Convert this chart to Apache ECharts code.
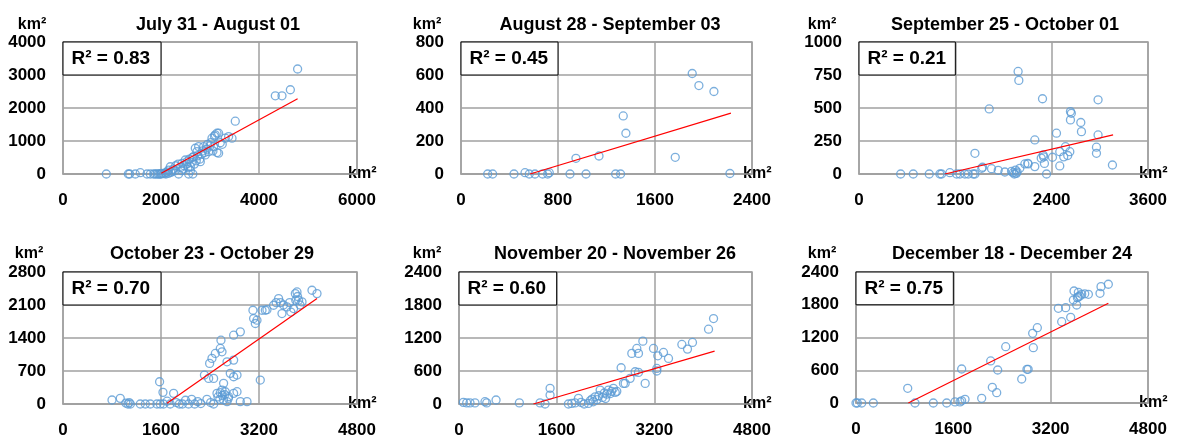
<!DOCTYPE html>
<html>
<head>
<meta charset="utf-8">
<script src="https://cdn.jsdelivr.net/npm/echarts@6/dist/echarts.min.js"></script>
<style>
html, body { margin: 0; padding: 0; background: #fff; }
#main { width: 1178px; height: 441px; }
</style>
</head>
<body>
<div id="main"></div>
<script>
// panel titles and R² values
const titles = ["July 31 - August 01", "August 28 - September 03", "September 25 - October 01",
    "October 23 - October 29", "November 20 - November 26", "December 18 - December 24"];
const r2 = ["0.83", "0.45", "0.21", "0.70", "0.60", "0.75"];

// axis ranges [max, interval]
const xAxes = [[6000, 2000], [2400, 800], [3600, 1200], [4800, 1600], [4800, 1600], [4800, 1600]];
const yAxes = [[4000, 1000], [800, 200], [1000, 250], [2800, 700], [2400, 600], [2400, 600]];

// scatter points [x, y] in km²
const pts1 = [[884,0],[1333,0],[1360,0],[1476,0],[1578,40],[1714,0],[1782,0],[1850,0],[1884,0],[1920,0],[1952,0],[1980,0],[2000,0],
    [2020,20],[2050,10],[2088,30],[2100,0],[2120,60],[2150,20],[2155,120],[2190,220],[2200,50],[2230,80],[2250,150],[2292,100],
    [2300,250],[2350,300],[2360,0],[2400,200],[2420,100],[2428,320],[2450,150],[2470,250],[2496,425],[2520,300],[2530,374],
    [2550,200],[2564,0],[2580,450],[2598,222],[2600,100],[2620,350],[2640,500],[2650,0],[2666,526],[2680,300],[2700,780],
    [2720,400],[2734,678],[2750,550],[2768,830],[2790,450],[2802,374],[2830,600],[2850,700],[2870,830],[2890,650],[2904,578],
    [2930,750],[2950,900],[2972,678],[3000,850],[3020,950],[3040,1085],[3060,700],[3074,830],[3090,1150],[3108,1185],
    [3143,1237],[3143,650],[3176,630],[3176,1237],[3210,950],[3250,900],[3312,1085],[3380,1134],[3449,1085],[3516,1600],
    [4333,2370],[4469,2370],[4640,2553],[4788,3182]];
const pts2 = [[220,0],[261,0],[437,0],[528,8],[563,0],[610,0],[673,0],[715,0],[728,8],[899,0],[948,95],[1031,0],[1138,109],
    [1275,0],[1316,0],[1338,352],[1360,247],[1767,101],[1907,609],[1962,536],[2086,500],[2218,3]];
const pts3 = [[519,0],[676,0],[875,0],[1008,0],[1029,0],[1132,10],[1216,0],[1257,0],[1319,0],[1361,0],[1423,0],[1444,0],
    [1444,157],[1529,43],[1539,51],[1622,493],[1651,40],[1734,28],[1817,15],[1900,20],[1921,10],[1935,0],[1950,30],[1960,5],
    [1970,15],[1982,777],[1991,709],[2003,43],[2066,76],[2102,81],[2107,76],[2190,56],[2190,258],[2270,120],[2286,570],
    [2294,144],[2300,130],[2310,80],[2336,0],[2410,127],[2460,309],[2501,61],[2501,169],[2550,130],[2572,207],[2600,140],
    [2626,169],[2634,473],[2645,460],[2634,410],[2763,390],[2771,321],[2958,157],[2958,203],[2978,562],[2978,296],[3157,68]];
const pts4 = [[800,85],[935,120],[1025,20],[1060,0],[1080,30],[1100,0],[1262,0],[1344,0],[1425,0],[1533,0],[1577,472],[1588,0],
    [1632,247],[1642,0],[1700,60],[1750,0],[1806,226],[1850,30],[1900,0],[1950,0],[2000,80],[2050,0],[2100,100],[2150,0],
    [2200,50],[2250,10],[2309,614],[2350,100],[2378,543],[2394,861],[2410,30],[2432,967],[2459,543],[2460,0],[2487,1073],
    [2514,226],[2530,150],[2560,100],[2568,1179],[2568,240],[2579,1354],[2596,1107],[2596,296],[2600,180],[2620,90],[2622,438],
    [2640,200],[2650,260],[2678,895],[2678,50],[2700,120],[2704,155],[2731,650],[2786,931],[2786,578],[2786,1460],[2786,226],
    [2841,614],[2841,261],[2895,1530],[2895,50],[3004,50],[3101,1989],[3112,1813],[3140,1708],[3167,1778],[3221,508],
    [3249,1989],[3303,1989],[3330,2000],[3438,2095],[3480,2150],[3520,2236],[3550,2150],[3575,1919],[3600,2100],[3657,2060],
    [3700,2150],[3720,1950],[3765,2025],[3793,2342],[3800,2200],[3820,2377],[3830,2280],[3847,2201],[3870,2100],[3902,2166],
    [4065,2413],[4147,2342]];
const pts5 = [[71,30],[126,20],[180,20],[262,20],[426,42],[454,20],[607,73],[989,20],[1328,20],[1410,0],[1492,285],[1492,163],
    [1792,0],[1847,10],[1902,20],[1957,103],[2000,30],[2050,0],[2120,10],[2150,60],[2180,90],[2200,40],[2230,130],[2260,80],
    [2290,150],[2312,254],[2350,120],[2380,200],[2400,100],[2420,180],[2448,254],[2480,190],[2500,230],[2530,285],[2560,210],
    [2585,230],[2656,659],[2694,375],[2722,375],[2804,466],[2831,920],[2886,586],[2913,1010],[2940,920],[2940,575],[3012,1143],
    [3050,375],[3186,1010],[3241,647],[3241,600],[3257,876],[3350,937],[3432,828],[3651,1083],[3743,998],[3825,1119],
    [4088,1360],[4170,1554]];
const pts6 = [[0,0],[22,0],[94,0],[285,0],[850,269],[970,0],[1271,0],[1491,0],[1628,20],[1710,20],[1737,40],[1737,623],[1792,68],
    [2066,86],[2214,770],[2241,288],[2313,189],[2329,605],[2461,1032],[2724,440],[2810,617],[2830,617],[2904,1277],[2915,1013],
    [2981,1380],[3326,1735],[3381,1490],[3447,1746],[3529,1570],[3573,1887],[3584,2052],[3628,1795],[3640,1930],[3655,1947],
    [3655,2028],[3680,1960],[3710,1991],[3760,2000],[3820,1991],[4011,2010],[4028,2132],[4148,2176]];

// linear trend line end points
const trend1 = [[2006,20],[4788,2280]];
const trend2 = [[570,0],[2226,369]];
const trend3 = [[1070,0],[3165,296]];
const trend4 = [[1698,15],[4147,2236]];
const trend5 = [[1219,0],[4187,961]];
const trend6 = [[860,0],[4148,1827]];

const points = [pts1, pts2, pts3, pts4, pts5, pts6];
const trends = [trend1, trend2, trend3, trend4, trend5, trend6];

// layout (px): plot boxes, title centres, km² label centres
const boxes = [[63,42,294,132],[461,42,291,132],[859,42,289,132],[63,272,294,132],[459,272,293,132],[856,272,292,131]];
const titleX = [213, 605, 1000, 207, 610, 1007];
const ynameX = [27, 422, 817, 24, 422, 817];

const FONT = '"Liberation Sans", Arial, sans-serif';
const GRAY = '#a0a0a0';

const chart = echarts.init(document.getElementById('main'));

let grid = [], xAxis = [], yAxis = [], series = [], title = [];
for (let i = 0; i < 6; i++) {
    const b = boxes[i];
    const rowTop = b[1] < 200 ? 11 : 240;
    grid.push({ left: b[0], top: b[1], width: b[2], height: b[3], show: true, borderColor: GRAY, borderWidth: 1.5 });
    xAxis.push({
        gridIndex: i, type: 'value', min: 0, max: xAxes[i][0], interval: xAxes[i][1],
        name: 'km²', nameLocation: 'end', nameGap: -9,
        nameTextStyle: { fontFamily: FONT, fontWeight: 'bold', fontSize: 16, color: '#000', verticalAlign: 'middle' },
        axisLine: { show: true, lineStyle: { color: GRAY, width: 1.5 } },
        axisTick: { show: false },
        axisLabel: { margin: 18, fontFamily: FONT, fontWeight: 'bold', fontSize: 17, color: '#000', formatter: v => String(v) },
        splitLine: { show: true, lineStyle: { color: GRAY, width: 1.5 } }
    });
    yAxis.push({
        gridIndex: i, type: 'value', min: 0, max: yAxes[i][0], interval: yAxes[i][1],
        axisLine: { show: false },
        axisTick: { show: false },
        axisLabel: { margin: 17, fontFamily: FONT, fontWeight: 'bold', fontSize: 17, color: '#000', formatter: v => String(v) },
        splitLine: { show: true, lineStyle: { color: GRAY, width: 1.5 } }
    });
    series.push({
        type: 'scatter', xAxisIndex: i, yAxisIndex: i,
        symbol: 'circle', symbolSize: 8,
        itemStyle: { color: 'rgba(0,0,0,0)', borderColor: '#5b9bd5', borderWidth: 1.3 },
        data: points[i],
        markArea: {
            silent: true,
            itemStyle: { color: '#fff', borderColor: '#000', borderWidth: 1 },
            label: {
                show: true, position: 'insideLeft', distance: 9,
                fontFamily: FONT, fontWeight: 'bold', fontSize: 19, color: '#000'
            },
            data: [[
                { name: 'R² = ' + r2[i], coord: [0, yAxes[i][0] - yAxes[i][1]] },
                { coord: [xAxes[i][1], yAxes[i][0]] }
            ]]
        }
    });
    series.push({
        type: 'line', xAxisIndex: i, yAxisIndex: i,
        symbol: 'none', silent: true, z: 3,
        lineStyle: { color: '#ff0000', width: 1.2 },
        data: trends[i]
    });
    title.push({
        text: titles[i], left: titleX[i], top: rowTop, textAlign: 'center',
        textStyle: { fontFamily: FONT, fontWeight: 'bold', fontSize: 18, color: '#000' }
    });
    title.push({
        text: 'km²', left: ynameX[i], top: rowTop + 1, textAlign: 'center',
        textStyle: { fontFamily: FONT, fontWeight: 'bold', fontSize: 16, color: '#000' }
    });
}

chart.setOption({
    animation: false,
    backgroundColor: '#fff',
    title: title,
    grid: grid,
    xAxis: xAxis,
    yAxis: yAxis,
    series: series
});
</script>
</body>
</html>
